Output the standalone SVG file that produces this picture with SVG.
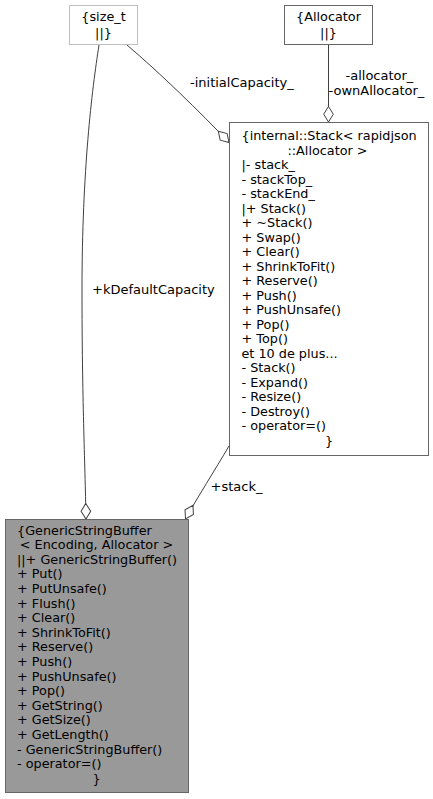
<svg xmlns="http://www.w3.org/2000/svg" width="433" height="799" viewBox="0 0 433 799">
<defs>
<style>
text{font-family:"DejaVu Sans","Liberation Sans",sans-serif;fill:#000}
.n{font-size:12.8px}
.l{font-size:13px}
.c{text-anchor:middle}
.edge{fill:none;stroke:#404040;stroke-width:1}
.box{fill:#fff;stroke:#666;stroke-width:1}
</style>
<marker id="od" markerUnits="userSpaceOnUse" viewBox="-1 -1 18 12" markerWidth="18" markerHeight="12" refX="15.5" refY="5" orient="auto" overflow="visible">
<path d="M0,5 L7.75,0.2 L15.5,5 L7.75,9.8 Z" fill="#fff" stroke="#404040" stroke-width="1"/>
</marker>
</defs>
<rect width="433" height="799" fill="#fff"/>
<g id="connectors">
<path class="edge" d="M99,45 C92,90 82,170 82,290 C82,400 85,460 86,519" marker-end="url(#od)"/>
<path class="edge" d="M127,45 C160,73 200,112 229,142.5" marker-end="url(#od)"/>
<path class="edge" d="M328.5,44.5 L328.5,122" marker-end="url(#od)"/>
<path class="edge" d="M229,446 C215,470 197,498 185.5,519" marker-end="url(#od)"/>
<text class="l" x="92" y="293.5">+kDefaultCapacity</text>
<text class="l" x="190" y="87">-initialCapacity_</text>
<text class="l" x="345.5" y="79.5">-allocator_</text>
<text class="l" x="328.5" y="95">-ownAllocator_</text>
<text class="l" x="210.5" y="490.5">+stack_</text>
</g>
<g id="node-size_t">
<rect x="69.5" y="5.5" width="68" height="39" fill="#fff" stroke="#bfbfbf"/>
<text class="n c" x="103.5" y="21">{size_t</text>
<text class="n c" x="103.5" y="36.5">||}</text>
</g>
<g id="node-allocator">
<rect class="box" x="284.5" y="5.5" width="88" height="39"/>
<text class="n c" x="328.5" y="21">{Allocator</text>
<text class="n c" x="328.5" y="36.5">||}</text>
</g>
<g id="node-stack">
<rect class="box" x="229.5" y="122.5" width="199" height="333"/>
<text class="n" x="241.5" y="140">{internal::Stack&lt; rapidjson</text>
<text class="n c" x="327.5" y="154.5">::Allocator &gt;</text>
<text class="n" x="241.5" y="169">|- stack_</text>
<text class="n" x="241.5" y="183.6">- stackTop_</text>
<text class="n" x="241.5" y="198.1">- stackEnd_</text>
<text class="n" x="241.5" y="212.6">|+ Stack()</text>
<text class="n" x="241.5" y="227.1">+ ~Stack()</text>
<text class="n" x="241.5" y="241.6">+ Swap()</text>
<text class="n" x="241.5" y="256.1">+ Clear()</text>
<text class="n" x="241.5" y="270.6">+ ShrinkToFit()</text>
<text class="n" x="241.5" y="285.2">+ Reserve()</text>
<text class="n" x="241.5" y="299.7">+ Push()</text>
<text class="n" x="241.5" y="314.2">+ PushUnsafe()</text>
<text class="n" x="241.5" y="328.7">+ Pop()</text>
<text class="n" x="241.5" y="343.2">+ Top()</text>
<text class="n" x="241.5" y="357.8">et 10 de plus...</text>
<text class="n" x="241.5" y="372.3">- Stack()</text>
<text class="n" x="241.5" y="386.8">- Expand()</text>
<text class="n" x="241.5" y="401.3">- Resize()</text>
<text class="n" x="241.5" y="415.8">- Destroy()</text>
<text class="n" x="241.5" y="430.4">- operator=()</text>
<text class="n c" x="329" y="444.9">}</text>
</g>
<g id="node-genericstringbuffer">
<rect x="5.5" y="519.5" width="183" height="273" fill="#999" stroke="#666"/>
<text class="n" x="17" y="534.5">{GenericStringBuffer</text>
<text class="n c" x="96.5" y="549.1">&lt; Encoding, Allocator &gt;</text>
<text class="n" x="17" y="563.7">||+ GenericStringBuffer()</text>
<text class="n" x="17" y="578.3">+ Put()</text>
<text class="n" x="17" y="592.9">+ PutUnsafe()</text>
<text class="n" x="17" y="607.5">+ Flush()</text>
<text class="n" x="17" y="622.1">+ Clear()</text>
<text class="n" x="17" y="636.7">+ ShrinkToFit()</text>
<text class="n" x="17" y="651.3">+ Reserve()</text>
<text class="n" x="17" y="665.9">+ Push()</text>
<text class="n" x="17" y="680.5">+ PushUnsafe()</text>
<text class="n" x="17" y="695.1">+ Pop()</text>
<text class="n" x="17" y="709.7">+ GetString()</text>
<text class="n" x="17" y="724.3">+ GetSize()</text>
<text class="n" x="17" y="738.9">+ GetLength()</text>
<text class="n" x="17" y="753.5">- GenericStringBuffer()</text>
<text class="n" x="17" y="768.1">- operator=()</text>
<text class="n c" x="96.5" y="782.7">}</text>
</g>
</svg>
